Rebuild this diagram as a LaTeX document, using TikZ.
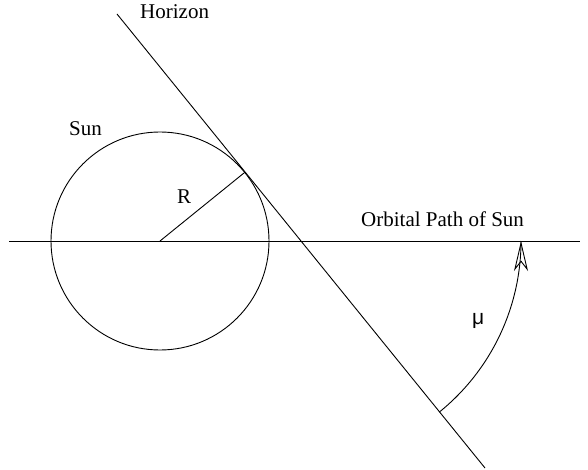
\documentclass[tikz,border=0pt]{standalone}
\usepackage{fontspec}
\setmainfont{Liberation Serif}
\newfontfamily\musans{Liberation Sans}
\usetikzlibrary{arrows.meta,calc}
\begin{document}
\begin{tikzpicture}[x=1pt,y=1pt,
  lbl/.style={anchor=base west,inner sep=0pt,font=\fontsize{21}{25}\selectfont},
  ln/.style={line width=0.9pt},
  headtip/.style={-{Stealth[open,length=30pt,width=14pt,inset=9pt,line width=0.9pt]}}]
\useasboundingbox (0,0) rectangle (588,-470);
% key points
\coordinate (O) at (160,-241);
\coordinate (T) at ($(O)+(39:109)$);
\coordinate (P) at (301,-241);
\coordinate (H1) at (117,-14);
\coordinate (H2) at (485,-468);
\coordinate (L1) at (9,-241);
\coordinate (L2) at (580,-241);
\coordinate (A1) at ($(P)+(-51:220)$);
\coordinate (A2) at ($(P)+(0:220)$);
\coordinate (A2b) at ($(A2)+(0,-21)$);
% sun
\draw[ln] (O) circle (109);
\draw[ln] (O) -- (T);
% orbital path
\draw[ln] (L1) -- (L2);
% horizon
\draw[ln] (H1) -- (H2);
% angle arc (shaft runs through the open head to its tip)
\draw[ln] (A1) arc[start angle=-51,end angle=0,radius=220];
\draw[ln,headtip] (A2b) -- (A2);
% labels
\node[lbl] (horizon) at (140,-18.5) {Horizon};
\node[lbl] (sunlbl) at (69,-136) {Sun};
\node[lbl] (rlbl) at (177,-204) {R};
\node[lbl] (orbit) at (361,-226) {Orbital Path of Sun};
\node[lbl,font=\musans\fontsize{21}{25}\selectfont] (mu) at (472,-324.5) {μ};
\end{tikzpicture}
\end{document}
